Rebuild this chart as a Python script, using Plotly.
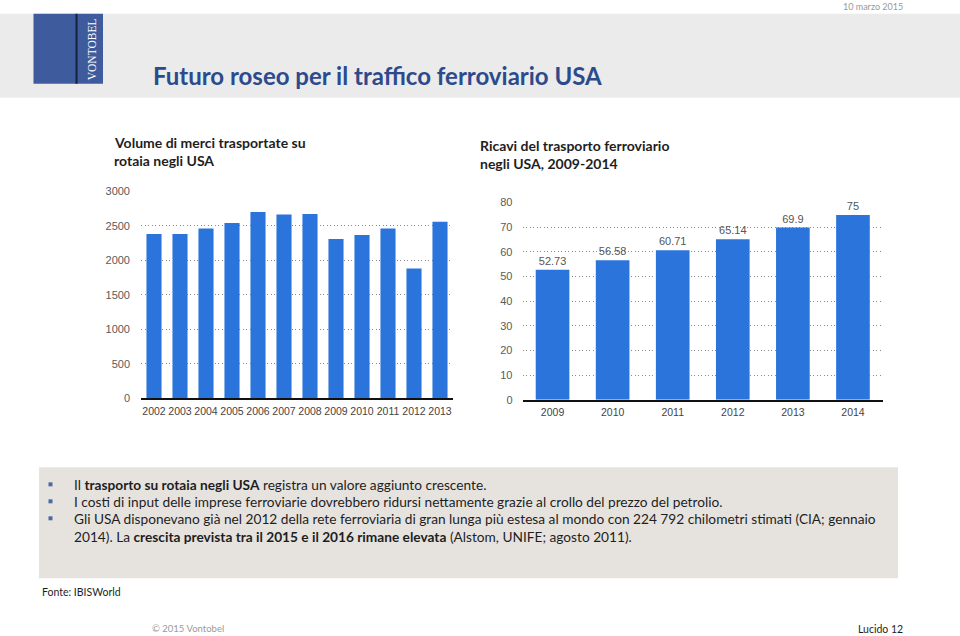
import plotly.graph_objects as go

W, H = 960, 636

# ---- data ----
vol_years = ["2002", "2003", "2004", "2005", "2006", "2007", "2008", "2009", "2010", "2011", "2012", "2013"]
vol_values = [2380, 2380, 2460, 2540, 2700, 2665, 2670, 2310, 2365, 2460, 1880, 2560]
vol_ticks = [0, 500, 1000, 1500, 2000, 2500, 3000]

rev_years = ["2009", "2010", "2011", "2012", "2013", "2014"]
rev_values = [52.73, 56.58, 60.71, 65.14, 69.9, 75]
rev_labels = ["52.73", "56.58", "60.71", "65.14", "69.9", "75"]
rev_ticks = [0, 10, 20, 30, 40, 50, 60, 70, 80]

BAR = "#2a74db"
TICKF = dict(family="Liberation Sans, Arial, sans-serif", size=11, color="#5a5a5a")
BODY = "Lato, Noto Sans, sans-serif"

# vertical placement: the rendered page maps paper onto roughly y=5.2..629.8 of the photo
Y_TOP, Y_SPAN = 5.2, 624.6


def px(x):
    return x / W


def py(y):
    return 1 - (y - Y_TOP) / Y_SPAN


fig = go.Figure()
fig.add_trace(go.Bar(x=vol_years, y=vol_values, marker=dict(color=BAR, line=dict(width=0)),
                     width=0.58, xaxis="x", yaxis="y", hoverinfo="x+y"))
fig.add_trace(go.Bar(x=rev_years, y=rev_values, text=rev_labels, textposition="outside",
                     textfont=dict(family="Liberation Sans, Arial, sans-serif", size=11, color="#555555"),
                     cliponaxis=False,
                     marker=dict(color=BAR, line=dict(width=0)),
                     width=0.56, xaxis="x2", yaxis="y2", hoverinfo="x+y"))

grid = dict(showgrid=True, gridcolor="#8a8a8a", griddash="1px,2.5px", gridwidth=1, zeroline=False,
            showline=False, tickfont=TICKF, ticks="", fixedrange=True)
xax = dict(type="category", showgrid=False, zeroline=False, showline=True, linecolor="#111111",
           linewidth=2, ticks="", tickangle=0,
           tickfont=dict(family="Liberation Sans, Arial, sans-serif", size=10.5, color="#444444"),
           ticklabelstandoff=2, fixedrange=True)

fig.update_layout(
    width=W, height=H, margin=dict(l=0, r=0, t=0, b=0),
    paper_bgcolor="white", plot_bgcolor="rgba(0,0,0,0)",
    showlegend=False,
    xaxis=dict(**xax, domain=[px(141), px(453)], anchor="y"),
    yaxis=dict(**grid, domain=[py(397.7), py(190.7)], range=[0, 3000], tickvals=vol_ticks,
               anchor="x", ticklabelstandoff=10),
    xaxis2=dict(**xax, domain=[px(522.5), px(883)], anchor="y2"),
    yaxis2=dict(**grid, domain=[py(399.3), py(202)], range=[0, 80], tickvals=rev_ticks,
                anchor="x2", ticklabelstandoff=9),
)

shapes = []
# header band
shapes.append(dict(type="rect", xref="paper", yref="paper", x0=0, x1=1, y0=py(97), y1=py(13),
                   fillcolor="#ebebeb", line=dict(width=0), layer="below"))
# logo
shapes.append(dict(type="rect", xref="paper", yref="paper", x0=px(33.5), x1=px(103), y0=py(83), y1=py(13),
                   fillcolor="#3e5c9d", line=dict(width=0), layer="below"))
shapes.append(dict(type="line", xref="paper", yref="paper", x0=px(76.5), x1=px(76.5), y0=py(83), y1=py(13),
                   line=dict(color="#15203a", width=2), layer="below"))
# text box
shapes.append(dict(type="rect", xref="paper", yref="paper", x0=px(39), x1=px(898), y0=py(578), y1=py(467),
                   fillcolor="#e6e3de", line=dict(width=0), layer="below"))
# bullets
for yb in [484, 501, 518]:
    shapes.append(dict(type="rect", xref="paper", yref="paper", x0=px(48.5), x1=px(52.5),
                       y0=py(yb + 2), y1=py(yb - 2), fillcolor="#4a68a8", line=dict(width=0)))
fig.update_layout(shapes=shapes)

ann = []


def text(x, y, s, size, color, family=BODY, xanchor="left", textangle=0):
    ann.append(dict(xref="paper", yref="paper", x=px(x), y=py(y), text=s, showarrow=False,
                    xanchor=xanchor, yanchor="middle", textangle=textangle,
                    font=dict(family=family, size=size, color=color)))


text(905, 6, "10 marzo 2015", 9, "#999999", xanchor="right")
text(91.5, 49, "VONTOBEL", 11.5, "white", family="Liberation Serif, serif", xanchor="center", textangle=-90)
text(151, 75, "<b>Futuro roseo per il traffico ferroviario USA</b>", 24, "#2c4a8c")

text(112, 142, "<b>Volume di merci trasportate su</b>", 14, "#1e1e1e")
text(112, 160, "<b>rotaia negli USA</b>", 14, "#1e1e1e")
text(478, 145, "<b>Ricavi del trasporto ferroviario</b>", 14, "#1e1e1e")
text(478, 163, "<b>negli USA, 2009-2014</b>", 14, "#1e1e1e")

text(72, 484, "Il <b>trasporto su rotaia negli USA</b> registra un valore aggiunto crescente.", 13.7, "#1e1e1e")
text(72, 501, "I costi di input delle imprese ferroviarie dovrebbero ridursi nettamente grazie al crollo del prezzo del petrolio.", 13.7, "#1e1e1e")
text(72, 518, "Gli USA disponevano già nel 2012 della rete ferroviaria di gran lunga più estesa al mondo con 224 792 chilometri stimati (CIA; gennaio", 13.7, "#1e1e1e")
text(72, 536, "2014). La <b>crescita prevista tra il 2015 e il 2016 rimane elevata</b> (Alstom, UNIFE; agosto 2011).", 13.7, "#1e1e1e")

text(40, 592, "Fonte: IBISWorld", 10.5, "#1e1e1e")
text(150, 628.5, "© 2015 Vontobel", 9.5, "#9a9a9a")
text(905, 628.5, "Lucido 12", 10.5, "#1e1e1e", xanchor="right")

fig.update_layout(annotations=ann)

fig.write_html(
    "out.html",
    config=dict(displayModeBar=False, displaylogo=False),
    post_script=(
        "document.documentElement.style.margin='0';document.documentElement.style.height='636px';"
        "document.documentElement.style.overflow='hidden';"
        "document.body.style.margin='0';document.body.style.padding='0';"
        "document.body.style.height='636px';document.body.style.overflow='hidden';"
        "var d=document.getElementById('{plot_id}');"
        "d.style.position='fixed';d.style.left='0px';d.style.top='0px';"
    ),
)
